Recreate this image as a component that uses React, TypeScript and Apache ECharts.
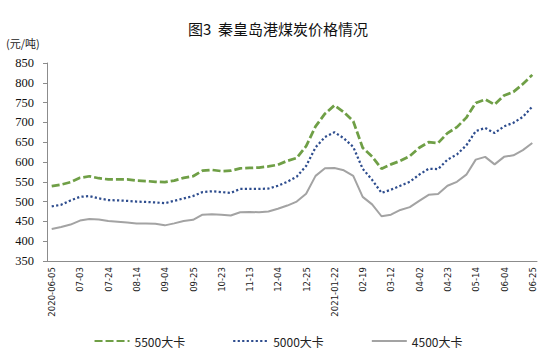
import React, { useEffect, useRef } from "react";
import * as echarts from "echarts";

const categories: string[] = [
  "2020-06-05", "2020-06-12", "2020-06-19", "2020-07-03", "2020-07-10", "2020-07-17",
  "2020-07-24", "2020-07-31", "2020-08-07", "2020-08-14", "2020-08-21", "2020-08-28",
  "2020-09-04", "2020-09-11", "2020-09-18", "2020-09-25", "2020-10-09", "2020-10-16",
  "2020-10-23", "2020-10-30", "2020-11-06", "2020-11-13", "2020-11-20", "2020-11-27",
  "2020-12-04", "2020-12-11", "2020-12-18", "2020-12-25", "2021-01-08", "2021-01-15",
  "2021-01-22", "2021-01-29", "2021-02-05", "2021-02-19", "2021-02-26", "2021-03-05",
  "2021-03-12", "2021-03-19", "2021-03-26", "2021-04-02", "2021-04-09", "2021-04-16",
  "2021-04-23", "2021-04-30", "2021-05-07", "2021-05-14", "2021-05-21", "2021-05-28",
  "2021-06-04", "2021-06-11", "2021-06-18", "2021-06-25",
];

const price5500: number[] = [
  539, 543, 549, 560, 564, 559, 556, 556, 556, 553, 552, 550,
  549, 553, 560, 564, 578, 580, 577, 578, 584, 585, 586, 589,
  593, 603, 610, 640, 690, 722, 743, 726, 703, 636, 614, 583,
  594, 603, 615, 636, 650, 648, 673, 688, 712, 749, 758, 745,
  768, 777, 797, 820,
];

const price5000: number[] = [
  488, 492, 503, 512, 514, 508, 504, 503, 502, 500, 499, 498,
  496, 502, 508, 514, 524, 526, 524, 522, 532, 532, 532, 533,
  540, 550, 563, 590, 637, 663, 675, 660, 638, 583, 555, 522,
  530, 540, 550, 568, 583, 582, 606, 619, 642, 678, 686, 673,
  690, 699, 714, 740,
];

const price4500: number[] = [
  431, 436, 442, 452, 456, 455, 451, 449, 447, 445, 445, 444,
  440, 445, 451, 454, 467, 468, 467, 465, 473, 474, 473, 475,
  482, 490, 500, 520, 565, 584, 585, 579, 565, 512, 493, 463,
  467, 479, 486, 502, 517, 519, 540, 550, 568, 606, 613, 594,
  613, 617, 630, 648,
];

const seriesNames: string[] = ["5500大卡", "5000大卡", "4500大卡"];
const titleText = "图3  秦皇岛港煤炭价格情况";
const unitText = "(元/吨)";

export default function App() {
  const ref = useRef<HTMLDivElement>(null);

  useEffect(() => {
    if (!ref.current) return;
    const chart = echarts.init(ref.current, undefined, { renderer: "svg" });
    const axisColor = "#8c8c8c";
    chart.setOption({
      animation: false,
      backgroundColor: "#ffffff",
      title: {
        text: titleText,
        left: "center",
        top: 16,
        textStyle: {
          fontFamily: "Noto Sans CJK SC",
          fontSize: 15,
          fontWeight: "normal",
          color: "#111",
        },
      },
      graphic: [
        {
          type: "text",
          left: 6,
          top: 37,
          style: {
            text: unitText,
            fontFamily: "Noto Sans CJK SC",
            fontSize: 11,
            fill: "#222",
          },
        },
      ],
      legend: {
        left: "center",
        top: 330,
        itemWidth: 35,
        itemHeight: 14,
        itemGap: 47,
        itemStyle: { color: "transparent", borderColor: "transparent", borderWidth: 0, opacity: 0 },
        textStyle: {
          fontFamily: "Noto Sans CJK SC",
          fontSize: 12,
          color: "#222",
        },
        data: seriesNames,
      },
      grid: { left: 47, right: 19, top: 63, height: 198 },
      xAxis: {
        type: "category",
        data: categories,
        boundaryGap: true,
        axisLine: { lineStyle: { color: axisColor, width: 1 } },
        axisTick: {
          length: 4,
          lineStyle: { color: axisColor },
          interval: (index: number) => index % 3 === 1,
        },
        axisLabel: {
          interval: 2,
          rotate: 90,
          margin: 6,
          fontFamily: "DejaVu Sans Condensed",
          fontSize: 9.5,
          color: "#222",
          formatter: (value: string, index: number) => {
            if (index === 0) return value;
            const prev = categories[index - 3];
            if (prev && prev.slice(0, 4) !== value.slice(0, 4)) return value;
            return value.slice(5);
          },
        },
        splitLine: { show: false },
      },
      yAxis: {
        type: "value",
        min: 350,
        max: 850,
        interval: 50,
        axisLine: { show: true, lineStyle: { color: axisColor, width: 1 } },
        axisTick: { show: true, length: 4, lineStyle: { color: axisColor } },
        axisLabel: {
          margin: 13,
          fontFamily: "Liberation Serif",
          fontSize: 12.5,
          color: "#111",
        },
        splitLine: { show: false },
      },
      series: [
        {
          name: seriesNames[0],
          type: "line",
          data: price5500,
          showSymbol: false,
          symbol: "none",
          itemStyle: { color: "#6f9f46" },
          lineStyle: { color: "#6f9f46", width: 2.75, type: [8, 3] },
        },
        {
          name: seriesNames[1],
          type: "line",
          data: price5000,
          showSymbol: false,
          symbol: "none",
          itemStyle: { color: "#2e4d8e" },
          lineStyle: { color: "#2e4d8e", width: 2.25, type: [2.2, 2.3] },
        },
        {
          name: seriesNames[2],
          type: "line",
          data: price4500,
          showSymbol: false,
          symbol: "none",
          itemStyle: { color: "#a3a3a3" },
          lineStyle: { color: "#a3a3a3", width: 2 },
        },
      ],
    });
    return () => chart.dispose();
  }, []);

  return (
    <div
      ref={ref}
      style={{ position: "fixed", left: 0, top: 0, width: 556, height: 358, background: "#fff" }}
    />
  );
}
